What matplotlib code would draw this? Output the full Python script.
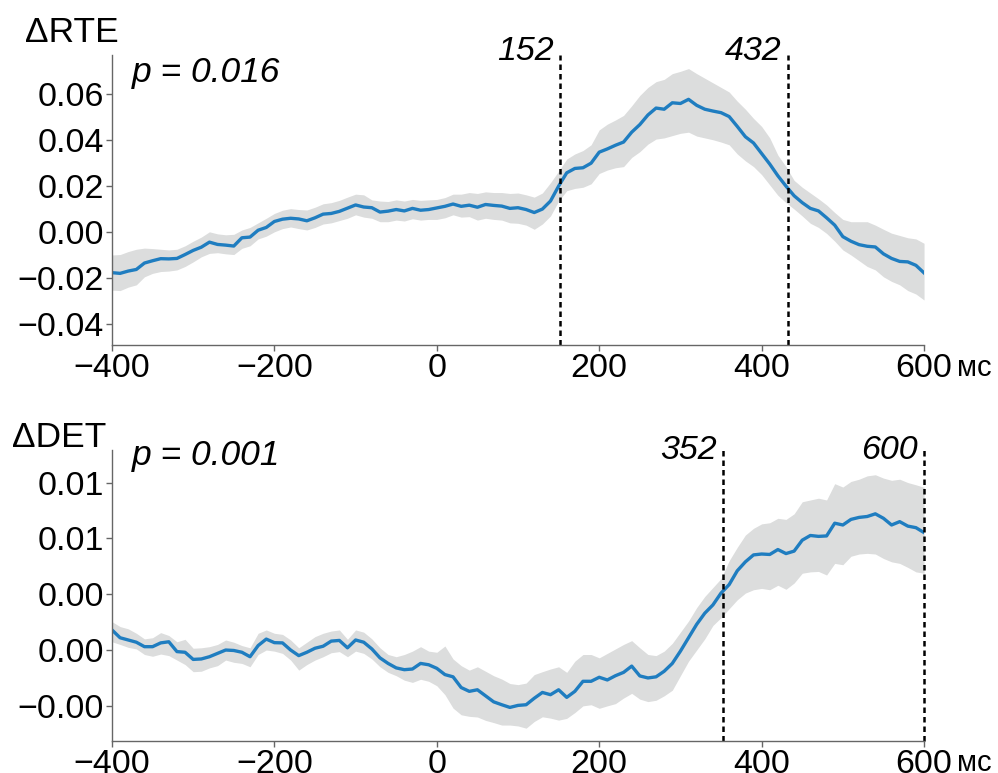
import numpy as np
import matplotlib
matplotlib.use("Agg")
import matplotlib.pyplot as plt
from matplotlib.ticker import FuncFormatter

# time axis, ms (10 ms steps)
t = np.arange(-400, 601, 10)

# top panel: delta RTE
rte_mean = [
    -0.0177, -0.0180, -0.0170, -0.0163, -0.0135, -0.0125, -0.0116, -0.0117, -0.0115, -0.0098,
    -0.0080, -0.0066, -0.0044, -0.0054, -0.0057, -0.0061, -0.0025, -0.0022, 0.0008, 0.0020,
    0.0046, 0.0056, 0.0060, 0.0057, 0.0049, 0.0062, 0.0078, 0.0081, 0.0090, 0.0104,
    0.0118, 0.0109, 0.0106, 0.0087, 0.0091, 0.0098, 0.0092, 0.0103, 0.0095, 0.0098,
    0.0105, 0.0112, 0.0122, 0.0112, 0.0117, 0.0108, 0.0120, 0.0116, 0.0113, 0.0103,
    0.0106, 0.0098, 0.0085, 0.0100, 0.0135, 0.0200, 0.0258, 0.0277, 0.0280, 0.0300,
    0.0348, 0.0362, 0.0378, 0.0392, 0.0435, 0.0468, 0.0510, 0.0540, 0.0535, 0.0563,
    0.0560, 0.0578, 0.0552, 0.0535, 0.0527, 0.0520, 0.0503, 0.0460, 0.0415, 0.0388,
    0.0342, 0.0296, 0.0245, 0.0200, 0.0158, 0.0128, 0.0103, 0.0092, 0.0062, 0.0030,
    -0.0020, -0.0040, -0.0055, -0.0062, -0.0065, -0.0095, -0.0115, -0.0128, -0.0130, -0.0145,
    -0.0178]
rte_hi = [
    -0.0100, -0.0098, -0.0085, -0.0075, -0.0070, -0.0072, -0.0075, -0.0078, -0.0075, -0.0060,
    -0.0040, -0.0022, 0.0001, -0.0008, -0.0012, -0.0010, 0.0009, 0.0020, 0.0040, 0.0060,
    0.0081, 0.0095, 0.0102, 0.0098, 0.0096, 0.0108, 0.0123, 0.0128, 0.0138, 0.0152,
    0.0165, 0.0162, 0.0140, 0.0135, 0.0133, 0.0140, 0.0135, 0.0142, 0.0138, 0.0140,
    0.0142, 0.0150, 0.0165, 0.0165, 0.0172, 0.0168, 0.0175, 0.0172, 0.0172, 0.0168,
    0.0170, 0.0162, 0.0152, 0.0170, 0.0215, 0.0265, 0.0318, 0.0340, 0.0355, 0.0380,
    0.0445, 0.0470, 0.0488, 0.0508, 0.0550, 0.0595, 0.0630, 0.0655, 0.0665, 0.0690,
    0.0700, 0.0712, 0.0690, 0.0670, 0.0650, 0.0630, 0.0610, 0.0570, 0.0535, 0.0495,
    0.0460, 0.0410, 0.0335, 0.0285, 0.0225, 0.0195, 0.0170, 0.0145, 0.0118, 0.0085,
    0.0055, 0.0045, 0.0045, 0.0045, 0.0030, 0.0012, -0.0005, -0.0015, -0.0025, -0.0030,
    -0.0049]
rte_lo = [
    -0.0253, -0.0255, -0.0240, -0.0230, -0.0195, -0.0180, -0.0172, -0.0170, -0.0165, -0.0150,
    -0.0130, -0.0108, -0.0093, -0.0090, -0.0095, -0.0098, -0.0071, -0.0060, -0.0030, -0.0018,
    0.0001, 0.0015, 0.0022, 0.0015, 0.0009, 0.0020, 0.0035, 0.0040, 0.0050, 0.0060,
    0.0075, 0.0065, 0.0060, 0.0045, 0.0045, 0.0052, 0.0048, 0.0058, 0.0052, 0.0055,
    0.0055, 0.0062, 0.0075, 0.0065, 0.0067, 0.0052, 0.0060, 0.0055, 0.0052, 0.0040,
    0.0038, 0.0030, 0.0012, 0.0035, 0.0070, 0.0135, 0.0180, 0.0190, 0.0195, 0.0210,
    0.0255, 0.0270, 0.0280, 0.0285, 0.0325, 0.0350, 0.0383, 0.0405, 0.0410, 0.0420,
    0.0430, 0.0435, 0.0418, 0.0410, 0.0402, 0.0392, 0.0380, 0.0340, 0.0310, 0.0285,
    0.0250, 0.0205, 0.0160, 0.0128, 0.0100, 0.0070, 0.0038, 0.0020, -0.0006, -0.0040,
    -0.0078, -0.0100, -0.0125, -0.0150, -0.0165, -0.0195, -0.0215, -0.0230, -0.0255, -0.0270,
    -0.0296]

# bottom panel: delta DET
det_mean = [
    0.00090, 0.00055, 0.00045, 0.00035, 0.00015, 0.00015, 0.00032, 0.00037, -0.00007, -0.00010,
    -0.00042, -0.00040, -0.00030, -0.00015, 0.00000, -0.00002, -0.00010, -0.00030, 0.00020, 0.00049,
    0.00033, 0.00032, 0.00000, -0.00025, -0.00010, 0.00008, 0.00017, 0.00040, 0.00043, 0.00010,
    0.00045, 0.00035, 0.00005, -0.00035, -0.00060, -0.00080, -0.00088, -0.00085, -0.00060, -0.00066,
    -0.00082, -0.00110, -0.00120, -0.00168, -0.00185, -0.00178, -0.00205, -0.00232, -0.00245, -0.00257,
    -0.00248, -0.00245, -0.00216, -0.00190, -0.00200, -0.00178, -0.00212, -0.00185, -0.00140, -0.00140,
    -0.00122, -0.00134, -0.00115, -0.00100, -0.00072, -0.00116, -0.00125, -0.00120, -0.00095, -0.00060,
    -0.00005, 0.00055, 0.00115, 0.00165, 0.00202, 0.00255, 0.00293, 0.00355, 0.00395, 0.00426,
    0.00430, 0.00428, 0.00450, 0.00432, 0.00443, 0.00492, 0.00513, 0.00509, 0.00511, 0.00568,
    0.00560, 0.00585, 0.00594, 0.00598, 0.00610, 0.00590, 0.00560, 0.00575, 0.00555, 0.00548,
    0.00526]
det_hi = [
    0.00127, 0.00105, 0.00095, 0.00075, 0.00050, 0.00055, 0.00078, 0.00065, 0.00037, 0.00048,
    0.00008, 0.00010, 0.00015, 0.00025, 0.00045, 0.00035, 0.00020, 0.00010, 0.00075, 0.00090,
    0.00075, 0.00070, 0.00045, 0.00010, 0.00035, 0.00060, 0.00075, 0.00085, 0.00090, 0.00048,
    0.00090, 0.00080, 0.00050, 0.00010, -0.00020, -0.00030, -0.00020, -0.00005, 0.00015, -0.00005,
    -0.00010, 0.00018, -0.00040, -0.00070, -0.00090, -0.00075, -0.00095, -0.00115, -0.00130, -0.00150,
    -0.00155, -0.00148, -0.00110, -0.00097, -0.00085, -0.00075, -0.00100, -0.00050, -0.00020, -0.00020,
    -0.00035, -0.00015, 0.00005, 0.00025, 0.00042, 0.00010, -0.00020, -0.00025, -0.00005, 0.00030,
    0.00080, 0.00130, 0.00190, 0.00240, 0.00280, 0.00320, 0.00400, 0.00460, 0.00515, 0.00545,
    0.00565, 0.00570, 0.00590, 0.00585, 0.00610, 0.00664, 0.00672, 0.00680, 0.00672, 0.00745,
    0.00730, 0.00755, 0.00765, 0.00780, 0.00785, 0.00770, 0.00760, 0.00765, 0.00750, 0.00740,
    0.00729]
det_lo = [
    0.00037, 0.00025, 0.00012, 0.00005, -0.00020, -0.00028, -0.00018, -0.00025, -0.00045, -0.00065,
    -0.00097, -0.00095, -0.00080, -0.00070, -0.00045, -0.00055, -0.00060, -0.00075, -0.00020, 0.00000,
    -0.00005, -0.00015, -0.00045, -0.00090, -0.00065, -0.00045, -0.00030, -0.00012, -0.00007, -0.00030,
    -0.00005, -0.00015, -0.00040, -0.00075, -0.00100, -0.00115, -0.00135, -0.00145, -0.00131, -0.00140,
    -0.00160, -0.00200, -0.00260, -0.00290, -0.00297, -0.00300, -0.00315, -0.00325, -0.00336, -0.00336,
    -0.00340, -0.00350, -0.00320, -0.00299, -0.00305, -0.00314, -0.00306, -0.00280, -0.00250, -0.00245,
    -0.00261, -0.00250, -0.00240, -0.00215, -0.00194, -0.00220, -0.00231, -0.00225, -0.00205, -0.00180,
    -0.00115, -0.00050, 0.00000, 0.00050, 0.00110, 0.00145, 0.00185, 0.00225, 0.00255, 0.00270,
    0.00276, 0.00270, 0.00290, 0.00272, 0.00300, 0.00344, 0.00350, 0.00352, 0.00336, 0.00388,
    0.00382, 0.00420, 0.00430, 0.00433, 0.00430, 0.00410, 0.00395, 0.00388, 0.00370, 0.00350,
    0.00344]

xticks = [-400, -200, 0, 200, 400, 600]
rte_yticks = [-0.04, -0.02, 0.0, 0.02, 0.04, 0.06]
det_yticks = [-0.0025, 0.0, 0.0025, 0.005, 0.0075]
rte_marks = [152, 432]
det_marks = [352, 600]

plt.rcParams['font.family'] = ['Liberation Sans', 'DejaVu Sans']
FS = 24.5
FS_BIG = 25.5
LINE = '#1f7dc0'
BAND = '#dcdddd'
SPINE = '#666666'


def fmt(v, pos=None, nd=2):
    s = '%.*f' % (nd, v)
    return s.replace('-', '\u2212')


def style(ax, yticks, ylim):
    ax.set_xlim(-400, 600)
    ax.set_ylim(*ylim)
    for s in ['top', 'right']:
        ax.spines[s].set_visible(False)
    for s in ['left', 'bottom']:
        ax.spines[s].set_color(SPINE)
        ax.spines[s].set_linewidth(1.0)
    ax.set_xticks(xticks)
    ax.set_yticks(yticks)
    ax.xaxis.set_major_formatter(FuncFormatter(lambda v, p: fmt(v, p, 0)))
    ax.yaxis.set_major_formatter(FuncFormatter(lambda v, p: fmt(v, p, 2)))
    ax.tick_params(length=4.5, width=1.0, color=SPINE, labelsize=FS, pad=1.5)
    # unit after the last x tick label
    ax.annotate('мс', xy=(1, 0), xycoords='axes fraction', xytext=(24, -22),
                textcoords='offset points', ha='left', va='baseline', fontsize=21)


fig = plt.figure(figsize=(9.98, 7.73), dpi=100)
ax1 = fig.add_axes([0.1122, 0.5537, 0.8137, 0.3751])
ax2 = fig.add_axes([0.1122, 0.0418, 0.8137, 0.3761])

# top
ax1.fill_between(t, rte_lo, rte_hi, color=BAND, lw=0)
ax1.plot(t, rte_mean, color=LINE, lw=2.4)
style(ax1, rte_yticks, (-0.0492, 0.0771))
for m in rte_marks:
    ax1.axvline(m, color='black', lw=1.8, ls=(0, (2.2, 1.6)), clip_on=False)
    ax1.annotate(str(m), xy=(m, 1.012), xycoords=('data', 'axes fraction'),
                 xytext=(-4.5, 0), textcoords='offset points',
                 ha='right', va='center', fontsize=FS, style='italic')
ax1.text(0.0246, 0.908, 'p = 0.016', transform=ax1.transAxes, fontsize=FS_BIG,
         style='italic', ha='left', va='baseline')

# bottom
ax2.fill_between(t, det_lo, det_hi, color=BAND, lw=0)
ax2.plot(t, det_mean, color=LINE, lw=2.4)
style(ax2, det_yticks, (-0.00406, 0.00896))
for m in det_marks:
    ax2.axvline(m, color='black', lw=1.8, ls=(0, (2.2, 1.6)), clip_on=False)
    ax2.annotate(str(m), xy=(m, 0.997), xycoords=('data', 'axes fraction'),
                 xytext=(-4.5, 0), textcoords='offset points',
                 ha='right', va='center', fontsize=FS, style='italic')
ax2.text(0.0246, 0.948, 'p = 0.001', transform=ax2.transAxes, fontsize=FS_BIG,
         style='italic', ha='left', va='baseline')

fig.text(0.025, 0.9457, '\u0394RTE', fontsize=FS_BIG, ha='left', va='baseline')
fig.text(0.012, 0.422, '\u0394DET', fontsize=FS_BIG, ha='left', va='baseline')

fig.savefig('out.png', dpi=100)
